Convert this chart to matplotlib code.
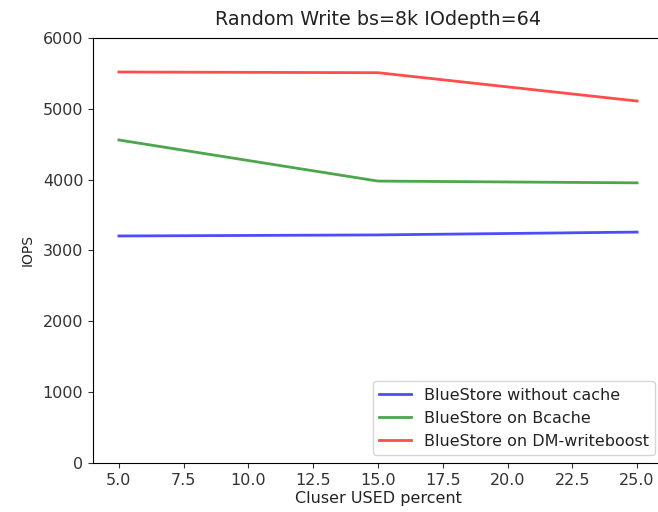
import matplotlib.pyplot as plt

# Values
used_percent = [5, 15, 25]
no_cache = [3205, 3220, 3260]
bcache = [4560, 3980, 3955]
dm_writeboost = [5520, 5510, 5110]

plt.rcParams["font.size"] = 11.5
plt.rcParams["text.color"] = "#222222"
plt.rcParams["axes.labelcolor"] = "#222222"
plt.rcParams["xtick.color"] = "#333333"
plt.rcParams["ytick.color"] = "#333333"

fig = plt.figure(figsize=(6.58, 5.12), dpi=100)
# right spine sits just past the image edge in the reference
ax = fig.add_axes([0.1413, 0.0957, 0.8663, 0.8301])

ax.plot(used_percent, no_cache, color="b", alpha=0.7, linewidth=2, label="BlueStore without cache")
ax.plot(used_percent, bcache, color="g", alpha=0.7, linewidth=2, label="BlueStore on Bcache")
ax.plot(used_percent, dm_writeboost, color="r", alpha=0.7, linewidth=2, label="BlueStore on DM-writeboost")

ax.set_ylim(0, 6000)
ax.set_xlabel("Cluser USED percent", labelpad=2)
ax.set_ylabel("IOPS", fontsize=10, labelpad=6)
ax.set_title("Random Write bs=8k IOdepth=64", fontsize=13.8, pad=9)
ax.legend(loc="lower right", fontsize=11.5)

fig.savefig("out.png", dpi=100)
